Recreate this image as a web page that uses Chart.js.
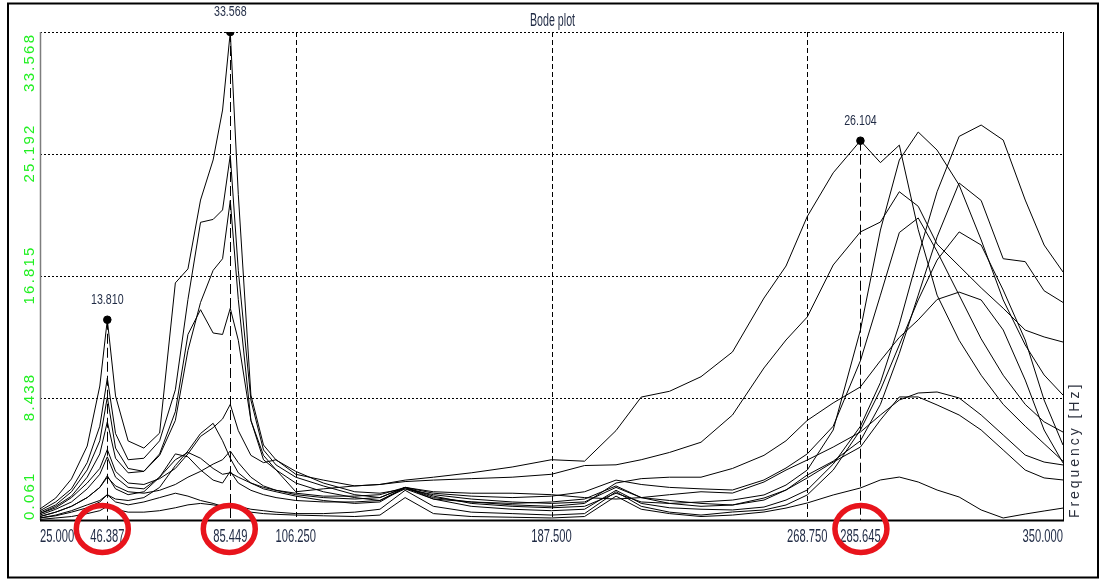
<!DOCTYPE html>
<html>
<head>
<meta charset="utf-8">
<title>Bode plot</title>
<script src="https://cdn.jsdelivr.net/npm/chart.js@4.4.0/dist/chart.umd.min.js"></script>
<style>
  html, body { margin: 0; padding: 0; background: #ffffff; }
  #wrap { width: 1101px; height: 580px; position: relative; }
  canvas { display: block; }
</style>
</head>
<body>
<div id="wrap"><canvas id="bode" width="1101" height="580"></canvas></div>
<script>
// Frequency grid [Hz] shared by every response curve
const freqs = [25, 30, 35, 40, 44, 46.387, 49, 53, 58, 63, 68, 72, 76, 80, 83, 85.449, 88, 92, 96, 100,
  106.25, 115, 125, 133, 141, 150, 162, 175, 187.5, 198, 208, 216, 225, 235,
  245, 255, 262, 268.75, 277, 285.645, 292, 298, 304, 310, 317, 324, 331, 338, 344, 350];

// Response amplitudes, one array per measurement channel
const seriesA = [0.5, 0.9, 1.6, 2.6, 3.6, 4.9, 3.4, 2.6, 2.5, 2.9, 3.6, 4.6, 5.8, 6.4, 7.0, 8.0, 6.2, 4.5, 4.0, 4.2,
  3.2, 2.8, 2.4, 2.5, 2.8, 3.0, 3.3, 3.7, 4.2, 4.1, 6.2, 8.5, 8.9, 9.9,
  11.6, 15.3, 17.5, 20.9, 23.9, 26.104, 24.6, 25.8, 20.0, 15.5, 12.4, 10.0, 8.0, 6.5, 5.3, 4.1];
const seriesB = [0.7, 1.3, 2.2, 4.0, 6.5, 9.8, 6.0, 4.2, 4.3, 5.5, 9.0, 15.2, 20.5, 20.7, 21.35, 25.1, 17.2, 8.3, 4.87, 3.84,
  3.0, 2.4, 1.8, 1.6, 2.3, 1.7, 1.2, 1.0, 0.9, 1.0, 1.9, 1.3, 1.2, 1.3,
  1.43, 1.78, 2.46, 3.49, 6.24, 13.11, 19.97, 24.78, 26.70, 25.46, 23.06, 19.29, 15.17, 12.08, 10.02, 8.64];
const seriesC = [0.6, 1.1, 2.0, 3.5, 5.5, 8.5, 5.0, 3.6, 3.4, 4.6, 7.5, 12.8, 14.5, 12.9, 12.8, 14.6, 12.4, 6.9, 4.2, 3.5,
  2.6, 2.0, 1.6, 1.4, 2.3, 1.5, 1.0, 0.8, 0.7, 0.8, 2.1, 1.2, 0.9, 0.8,
  0.75, 0.95, 1.43, 2.12, 3.9, 6.5, 9.5, 13.5, 18.2, 22.6, 26.4, 27.18, 26.15, 22.03, 18.94, 17.09];
const seriesD = [0.82, 1.57, 2.88, 5.14, 9.26, 13.81, 8.58, 5.49, 5.0, 6.03, 16.34, 17.3, 22.03, 24.78, 28.21, 33.568, 22.4, 8.64, 5.21, 4.18,
  3.4, 2.6, 2.0, 1.9, 2.2, 1.8, 1.5, 1.3, 1.2, 1.3, 2.3, 1.6, 1.4, 1.2,
  1.09, 1.43, 2.12, 3.15, 4.1, 5.5, 8.0, 11.5, 15.5, 19.5, 23.2, 22.0, 18.0, 17.8, 15.8, 15.0];
const seriesE = [0.5, 1.0, 1.7, 3.0, 4.6, 6.8, 4.3, 3.3, 3.4, 4.5, 6.9, 11.7, 15.0, 17.2, 18.0, 22.0, 15.2, 6.9, 4.5, 3.5,
  2.0, 2.2, 2.4, 2.5, 2.7, 2.8, 2.9, 3.0, 3.2, 3.8, 3.85, 4.2, 4.7, 5.4,
  7.27, 10.5, 12.42, 14.0, 17.57, 19.84, 20.52, 22.6, 21.6, 19.0, 17.5, 16.0, 14.6, 13.1, 12.63, 12.28];
const seriesF = [0.3, 0.6, 1.0, 1.6, 2.3, 3.0, 2.4, 2.0, 1.9, 2.1, 2.5, 3.0, 3.4, 3.9, 4.2, 4.8, 4.0, 3.0, 2.4, 2.1,
  1.8, 1.6, 1.5, 1.6, 2.3, 1.9, 1.7, 1.6, 1.7, 2.0, 2.8, 2.5, 2.3, 2.2,
  2.12, 2.81, 3.63, 4.6, 6.5, 11.0, 15.5, 19.8, 20.8, 18.5, 15.5, 12.5, 10.0, 8.0, 6.8, 6.1];
const seriesG = [0.2, 0.35, 0.6, 0.9, 1.3, 1.8, 1.3, 1.1, 1.3, 1.6, 1.9, 1.7, 1.4, 1.2, 1.0, 1.2, 1.0, 0.8, 0.7, 0.6,
  0.5, 0.5, 0.6, 0.8, 2.1, 1.0, 0.6, 0.5, 0.4, 0.5, 2.0, 1.0, 0.6, 0.4,
  0.61, 0.75, 1.09, 1.78, 3.49, 6.24, 8.99, 12.08, 15.17, 17.91, 19.84, 18.94, 15.85, 12.42, 8.3, 5.21];
const seriesH = [0.4, 0.8, 1.3, 2.2, 3.2, 4.4, 3.0, 2.3, 2.2, 3.0, 4.2, 4.7, 4.3, 3.6, 3.2, 3.3, 3.0, 2.6, 2.3, 2.1,
  1.9, 1.7, 1.7, 1.8, 2.3, 2.0, 1.9, 1.9, 1.8, 1.6, 1.5, 1.6, 1.8, 2.0,
  1.91, 2.67, 3.49, 4.18, 5.07, 6.1, 7.27, 8.3, 8.78, 8.85, 8.44, 7.27, 5.9, 4.52, 4.04, 3.84];
const seriesI = [0.3, 0.6, 1.0, 1.6, 2.3, 3.1, 2.2, 1.8, 2.0, 3.0, 4.6, 4.4, 3.5, 2.8, 2.6, 3.4, 2.6, 2.1, 1.8, 1.6,
  1.4, 1.3, 1.3, 1.4, 2.2, 1.5, 1.3, 1.2, 1.3, 1.5, 2.4, 1.6, 1.2, 1.0,
  1.09, 1.57, 2.12, 2.95, 4.04, 5.07, 6.93, 8.51, 8.51, 7.96, 7.27, 6.24, 4.87, 3.49, 2.95, 2.81];
const seriesJ = [0.2, 0.4, 0.7, 1.1, 1.4, 1.8, 1.5, 1.4, 1.6, 2.3, 3.8, 4.8, 6.0, 6.7, 5.5, 4.3, 3.3, 2.6, 2.2, 2.0,
  1.7, 1.4, 1.2, 1.3, 2.3, 1.6, 1.3, 1.1, 1.0, 1.2, 2.6, 2.9, 3.0, 3.0,
  3.6, 4.5, 5.5, 6.9, 8.1, 9.2, 11.0, 12.6, 13.8, 15.2, 15.71, 15.17, 13.11, 9.67, 6.24, 3.98];
const seriesK = [0.1, 0.2, 0.3, 0.5, 0.7, 1.0, 0.8, 0.6, 0.6, 0.7, 0.9, 1.1, 1.2, 1.1, 1.0, 1.2, 0.9, 0.6, 0.5, 0.45,
  0.4, 0.35, 0.3, 0.4, 1.6, 0.5, 0.3, 0.25, 0.2, 0.3, 1.7, 0.8, 0.5, 0.3,
  0.40, 0.61, 0.88, 1.23, 1.78, 2.26, 2.81, 3.01, 2.67, 2.12, 1.64, 0.75, 0.2, 0.47, 0.68, 0.88];

const allSeries = [seriesA, seriesB, seriesC, seriesD, seriesE, seriesF, seriesG, seriesH, seriesI, seriesJ, seriesK];

// Marked resonance peaks
const peakFreqs = [46.387, 85.449, 285.645];
const peakValues = [13.810, 33.568, 26.104];

// Axis ticks
const xTicks = [25.000, 46.387, 85.449, 106.250, 187.500, 268.750, 285.645, 350.000];
const xGridTicks = [106.250, 187.500, 268.750];
const yTicks = [0.061, 8.438, 16.815, 25.192, 33.568];

// Hand-drawn highlight rings: horizontal nudge per peak label
const ringShift = [-5, -1, 0.5];

const FONT = '"Liberation Sans", Arial, sans-serif';
const TEXT_DARK = '#1f2a44';
const TEXT_GREEN = '#22f022';

function line(ctx, x1, y1, x2, y2) {
  ctx.beginPath(); ctx.moveTo(x1, y1); ctx.lineTo(x2, y2); ctx.stroke();
}
function spacedWidth(ctx, text, sp) {
  let w = 0;
  for (const ch of text) w += ctx.measureText(ch).width + sp;
  return w - sp;
}
function drawSpaced(ctx, text, x0, sp) {
  let x = x0;
  for (const ch of text) { ctx.fillText(ch, x, 0); x += ctx.measureText(ch).width + sp; }
}
function scaledText(ctx, text, x, y, sx, sy, align, size) {
  ctx.save();
  ctx.translate(x, y);
  ctx.scale(sx, sy);
  ctx.font = size + 'px ' + FONT;
  ctx.textAlign = align;
  ctx.textBaseline = 'middle';
  ctx.fillText(text, 0, 0);
  ctx.restore();
}

const frame = {
  id: 'frame',
  beforeDraw(chart) {
    const ctx = chart.ctx;
    ctx.save();
    ctx.fillStyle = '#ffffff';
    ctx.fillRect(0, 0, chart.width, chart.height);
    ctx.restore();
  },
  beforeDatasetsDraw(chart) {
    const { ctx, chartArea: a, scales: { x, y } } = chart;
    ctx.save();
    ctx.strokeStyle = '#000000';
    ctx.lineWidth = 1;
    // dotted horizontal grid at each y tick above the baseline
    ctx.setLineDash([2, 2]);
    yTicks.slice(1).forEach(v => {
      const py = Math.round(y.getPixelForValue(v)) + 0.5;
      line(ctx, a.left, py, a.right, py);
    });
    // dashed vertical grid
    ctx.setLineDash([5, 3]);
    xGridTicks.forEach(f => {
      const px = Math.round(x.getPixelForValue(f)) + 0.5;
      line(ctx, px, a.top, px, a.bottom);
    });
    // long-dash drop lines from the marked peaks
    ctx.setLineDash([10, 4]);
    peakFreqs.forEach((f, i) => {
      const px = Math.round(x.getPixelForValue(f)) + 0.5;
      line(ctx, px, y.getPixelForValue(peakValues[i]), px, a.bottom);
    });
    ctx.setLineDash([]);
    // y axis line
    ctx.strokeStyle = '#7d7d7d';
    ctx.lineWidth = 1.5;
    line(ctx, a.left + 0.5, a.top, a.left + 0.5, a.bottom);
    // right frame
    ctx.strokeStyle = '#000000';
    ctx.lineWidth = 1;
    line(ctx, Math.round(a.right) + 0.5, a.top, Math.round(a.right) + 0.5, a.bottom);
    // x axis line
    ctx.lineWidth = 2;
    line(ctx, a.left, a.bottom + 0.5, a.right + 1, a.bottom + 0.5);
    ctx.restore();
  },
  afterDraw(chart) {
    const { ctx, chartArea: a, scales: { x, y } } = chart;
    ctx.save();

    // title
    ctx.fillStyle = TEXT_DARK;
    scaledText(ctx, 'Bode plot', (a.left + a.right) / 2 + 1, 21.5, 0.82, 1.35, 'center', 13);

    // x tick labels
    xTicks.forEach((f, i) => {
      const px = x.getPixelForValue(f);
      const align = i === 0 ? 'left' : (i === xTicks.length - 1 ? 'right' : 'center');
      scaledText(ctx, f.toFixed(3), px, a.bottom + 17, 0.8, 1.27, align, 14);
    });

    // y tick labels, rotated, green
    ctx.fillStyle = TEXT_GREEN;
    ctx.font = '15px ' + FONT;
    ctx.textBaseline = 'middle';
    ctx.textAlign = 'left';
    yTicks.forEach((v, i) => {
      const py = y.getPixelForValue(v);
      const txt = v.toFixed(3);
      const w = spacedWidth(ctx, txt, 2.2);
      let start;
      if (i === 0) start = 0;
      else if (i === yTicks.length - 1) start = -w - 3;
      else start = -w / 2;
      ctx.save();
      ctx.translate(30, py);
      ctx.rotate(-Math.PI / 2);
      drawSpaced(ctx, txt, start, 2.2);
      ctx.restore();
    });

    // axis title on the right
    ctx.fillStyle = '#2a2f3c';
    ctx.font = '14px ' + FONT;
    ctx.save();
    ctx.translate(a.right + 12, a.bottom - 2);
    ctx.rotate(-Math.PI / 2);
    drawSpaced(ctx, 'Frequency [Hz]', 0, 2.95);
    ctx.restore();

    // peak value labels
    ctx.fillStyle = TEXT_DARK;
    peakFreqs.forEach((f, i) => {
      const px = x.getPixelForValue(f);
      const py = y.getPixelForValue(peakValues[i]);
      scaledText(ctx, peakValues[i].toFixed(3), px, py - 20, 0.82, 1.12, 'center', 13);
    });

    // red rings around the peak frequencies on the axis
    ctx.strokeStyle = '#e8141c';
    ctx.lineWidth = 5.5;
    peakFreqs.forEach((f, i) => {
      const px = x.getPixelForValue(f);
      ctx.beginPath();
      ctx.ellipse(px + ringShift[i], a.bottom + 9, 26, 23.5, 0, 0, Math.PI * 2);
      ctx.stroke();
    });

    // outer border
    ctx.strokeStyle = '#000000';
    ctx.lineWidth = 2;
    ctx.strokeRect(8, 3.5, 1090, 574);
    ctx.restore();
  }
};

const lineSets = allSeries.map((vals, k) => ({
  type: 'line',
  label: 'ch' + (k + 1),
  data: freqs.map((f, i) => ({ x: f, y: vals[i] })),
  borderColor: '#000000',
  borderWidth: 1,
  pointRadius: 0,
  tension: 0,
  fill: false
}));

const peakSet = {
  type: 'scatter',
  label: 'peaks',
  data: peakFreqs.map((f, i) => ({ x: f, y: peakValues[i] })),
  backgroundColor: '#000000',
  borderColor: '#000000',
  pointRadius: 3.8,
  showLine: false
};

new Chart(document.getElementById('bode'), {
  type: 'line',
  data: { datasets: [...lineSets, peakSet] },
  options: {
    responsive: false,
    animation: false,
    devicePixelRatio: 1,
    layout: { padding: { left: 40, right: 38, top: 32, bottom: 60 } },
    plugins: { legend: { display: false }, tooltip: { enabled: false }, title: { display: false } },
    scales: {
      x: { type: 'linear', min: 25, max: 350, display: false },
      y: { type: 'linear', min: 0.061, max: 33.568, display: false }
    },
    elements: { line: { capBezierPoints: false } }
  },
  plugins: [frame]
});
</script>
</body>
</html>
